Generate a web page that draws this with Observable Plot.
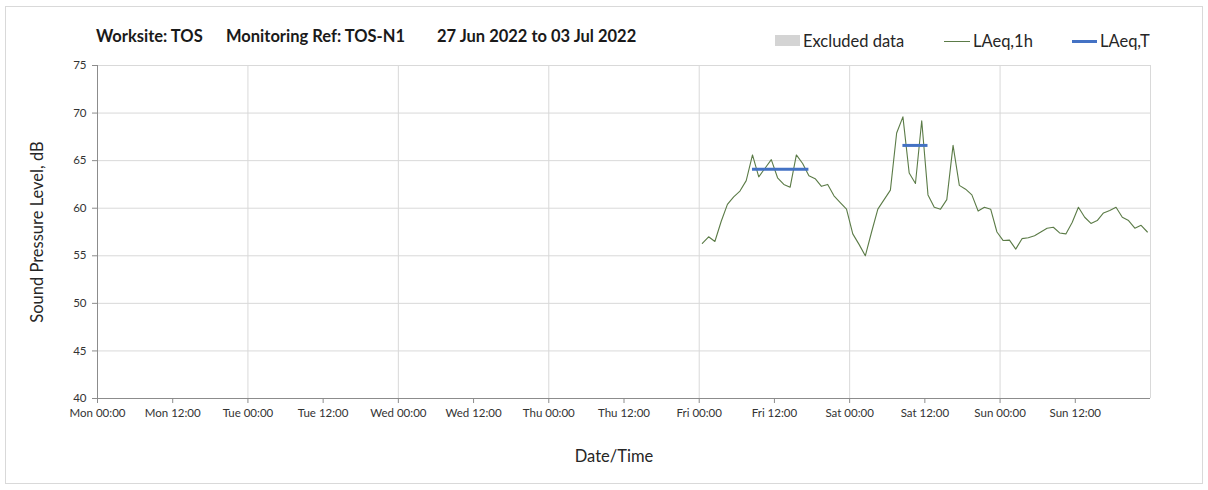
<!DOCTYPE html>
<html>
<head>
<meta charset="utf-8">
<script src="https://cdn.jsdelivr.net/npm/d3@7"></script>
<script src="https://cdn.jsdelivr.net/npm/@observablehq/plot@0.6"></script>
<style>
  body { margin: 0; background: #fff; font-family: Lato, "Open Sans", sans-serif; }
  #wrap { position: relative; width: 1208px; height: 490px; overflow: hidden; }
  #border { position: absolute; left: 5px; top: 6px; width: 1198px; height: 478px; border: 1px solid #d9d9d9; box-sizing: border-box; }
  .t { position: absolute; white-space: pre; color: #1a1a1a; }
  .title { font-weight: bold; font-size: 16.5px; top: 26px; }
  .leg { font-size: 16.5px; top: 31px; color: #262626; }
  #chart { position: absolute; left: 0; top: 0; }
</style>
</head>
<body>
<div id="wrap">
  <div id="border"></div>
  <div id="chart"></div>
  <span class="t title" style="left:96px">Worksite: TOS</span>
  <span class="t title" style="left:226px">Monitoring Ref: TOS-N1</span>
  <span class="t title" style="left:437px">27 Jun 2022 to 03 Jul 2022</span>
  <div style="position:absolute;left:775px;top:35px;width:25px;height:11px;background:#d4d4d4"></div>
  <span class="t leg" style="left:803px">Excluded data</span>
  <div style="position:absolute;left:944px;top:41px;width:26px;height:1px;background:#5b7b47"></div>
  <span class="t leg" style="left:973px">LAeq,1h</span>
  <div style="position:absolute;left:1072px;top:40px;width:25px;height:3px;background:#4472c4"></div>
  <span class="t leg" style="left:1100px">LAeq,T</span>
  <span class="t" style="left:37px;top:232px;font-size:16.5px;color:#262626;transform:translate(-50%,-50%) rotate(-90deg);">Sound Pressure Level, dB</span>
  <span class="t" style="left:614px;top:456px;font-size:16.5px;color:#262626;transform:translate(-50%,-50%);">Date/Time</span>
</div>
<script>
// Week shown on the x axis
const weekStart = "2022-06-27T00:00Z";
const weekEnd = "2022-07-04T00:00Z";
// Hourly LAeq,1h series: first sample time, then values (dB) one per hour
const seriesStart = "2022-07-01T00:30Z";
const laeq1h = [
  56.3, 57.0, 56.5, 58.6, 60.4, 61.2, 61.8, 62.9, 65.6, 63.3, 64.2, 65.1,
  63.2, 62.5, 62.2, 65.6, 64.7, 63.4, 63.1, 62.3, 62.5, 61.3, 60.6, 59.9,
  57.3, 56.2, 55.0, 57.5, 59.9, 60.9, 61.9, 67.9, 69.6, 63.7, 62.6, 69.2,
  61.4, 60.1, 59.9, 60.9, 66.6, 62.4, 62.0, 61.4, 59.7, 60.1, 59.9, 57.5,
  56.6, 56.65, 55.7, 56.8, 56.9, 57.1, 57.5, 57.9, 58.0, 57.4, 57.3, 58.5,
  60.1, 59.05, 58.4, 58.7, 59.5, 59.75, 60.1, 59.05, 58.7, 57.9, 58.2, 57.5
];
// LAeq,T periods
const periodStart = ["2022-07-01T08:30Z", "2022-07-02T08:30Z"];
const periodEnd = ["2022-07-01T17:30Z", "2022-07-02T12:30Z"];
const periodValue = [64.1, 66.6];
// y ticks
const yTicks = [40, 45, 50, 55, 60, 65, 70, 75];

const t0 = new Date(seriesStart);
const hourly = laeq1h.map((v, i) => ({ t: d3.utcHour.offset(t0, i), v }));
const periods = periodValue.map((v, i) => ({ x1: new Date(periodStart[i]), x2: new Date(periodEnd[i]), v }));
const x0 = new Date(weekStart), x1 = new Date(weekEnd);
const ticks12 = d3.utcHour.every(12).range(x0, d3.utcHour.offset(x1, 1)).filter(d => d < x1);
const ticks24 = d3.utcDay.range(x0, d3.utcHour.offset(x1, 1));
const fmt = d3.utcFormat("%a %H:%M");

const plot = Plot.plot({
  width: 1208,
  height: 490,
  marginLeft: 97,
  marginRight: 58,
  marginTop: 65,
  marginBottom: 92,
  style: { fontFamily: "Lato, 'Open Sans', sans-serif", fontSize: "11.5px", color: "#333", background: "transparent" },
  x: { type: "utc", domain: [x0, x1] },
  y: { domain: [40, 75] },
  marks: [
    Plot.gridX(ticks24, { stroke: "#d9d9d9", strokeOpacity: 1 }),
    Plot.gridY(yTicks, { stroke: "#d9d9d9", strokeOpacity: 1 }),
    Plot.ruleX([x0], { stroke: "#8c8c8c" }),
    Plot.ruleY([40], { stroke: "#8c8c8c" }),
    Plot.axisX(ticks12, { tickFormat: fmt, tickSize: 5, tickPadding: 5, stroke: "#8c8c8c", fill: "#333", label: null }),
    Plot.axisY(yTicks, { tickSize: 5, tickPadding: 6, stroke: "#8c8c8c", fill: "#333", label: null }),
    Plot.line(hourly, { x: "t", y: "v", stroke: "#5b7b47", strokeWidth: 1.1 }),
    Plot.ruleY(periods, { x1: "x1", x2: "x2", y: "v", stroke: "#4472c4", strokeWidth: 3 })
  ]
});
document.getElementById("chart").appendChild(plot);
</script>
</body>
</html>
